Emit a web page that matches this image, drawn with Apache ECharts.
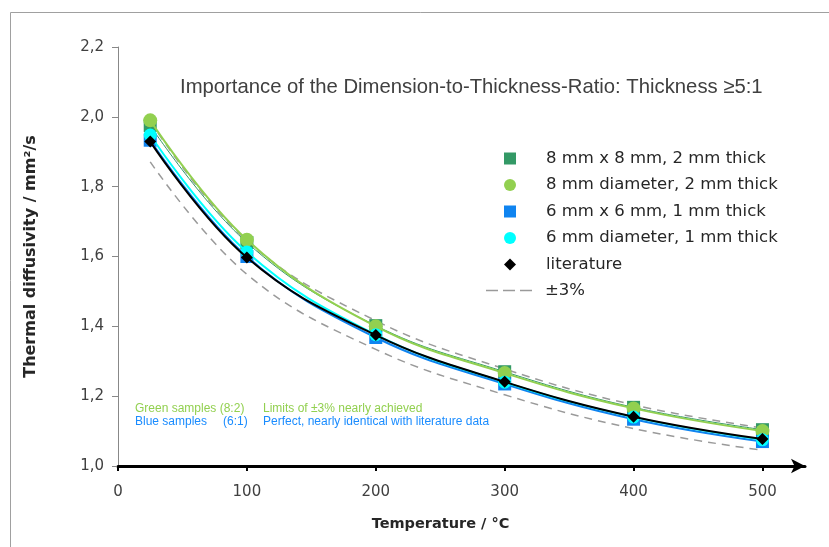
<!DOCTYPE html>
<html>
<head>
<meta charset="utf-8">
<script src="https://cdn.jsdelivr.net/npm/echarts@6/dist/echarts.min.js"></script>
<style>html,body{margin:0;padding:0;background:#fff}#c{width:829px;height:547px}</style>
</head>
<body>
<div id="c"></div>
<script>
const temperatures = [25, 100, 200, 300, 400, 500];
const xTickValues = [0, 100, 200, 300, 400, 500];
const sq8x8 = [1.975, 1.640, 1.402, 1.270, 1.168, 1.104];
const dia8 = [1.990, 1.648, 1.400, 1.266, 1.165, 1.100];
const sq6x6 = [1.933, 1.600, 1.368, 1.235, 1.134, 1.070];
const dia6 = [1.948, 1.613, 1.376, 1.240, 1.140, 1.075];
const literature = [1.929, 1.597, 1.375, 1.241, 1.141, 1.077];
const upper3 = [1.987, 1.645, 1.416, 1.278, 1.175, 1.109];
const lower3 = [1.871, 1.549, 1.334, 1.204, 1.107, 1.045];
const seriesNames = ['8 mm x 8 mm, 2 mm thick', '8 mm diameter, 2 mm thick', '6 mm x 6 mm, 1 mm thick', '6 mm diameter, 1 mm thick', 'literature', '±3%'];
const titleText = 'Importance of the Dimension-to-Thickness-Ratio: Thickness ≥5:1';

const pair = arr => temperatures.map((t, i) => [t, arr[i]]);
const SQ = 'path://M0,0H10V10H0Z';
const DM = 'path://M5,0L10,5L5,10L0,5Z';
const DASH = 'path://M0,0H12V1.5H0ZM17,0H29V1.5H17ZM34,0H46V1.5H34Z';
const F = 'DejaVu Sans';

const chart = echarts.init(document.getElementById('c'));
chart.setOption({
  animation: false,
  backgroundColor: '#fff',
  title: {
    text: titleText, left: 175, top: 72,
    textStyle: {fontFamily: 'Liberation Sans', fontSize: 20.3, fontWeight: 'normal', color: '#404040'}
  },
  grid: {left: 118, right: 24, top: 47, bottom: 81},
  xAxis: {
    type: 'value', min: 0, max: 533,
    name: 'Temperature / °C', nameLocation: 'middle', nameGap: 51,
    nameTextStyle: {fontFamily: F, fontSize: 14.5, fontWeight: 'bold', color: '#262626', padding: [0, 42, 0, 0]},
    axisLine: {show: true, lineStyle: {color: '#000', width: 3}, symbol: ['none', 'arrow'], symbolSize: [11, 14]},
    axisTick: {show: true, customValues: xTickValues, length: 5, lineStyle: {color: '#000', width: 2}},
    axisLabel: {customValues: xTickValues, margin: 19, fontFamily: F, fontSize: 15, color: '#404040'},
    splitLine: {show: false}
  },
  yAxis: {
    type: 'value', min: 1.0, max: 2.2, interval: 0.2,
    name: 'Thermal diffusivity / mm²/s', nameLocation: 'middle', nameGap: 79,
    nameTextStyle: {fontFamily: F, fontSize: 16, fontWeight: 'bold', color: '#262626'},
    axisLine: {show: true, lineStyle: {color: '#888', width: 1}},
    axisTick: {show: true, inside: false, length: 6, lineStyle: {color: '#888'}},
    axisLabel: {margin: 14, fontFamily: F, fontSize: 15, color: '#404040', formatter: v => v.toFixed(1).replace('.', ',')},
    splitLine: {show: false}
  },
  legend: [
    {
      data: [
        {name: seriesNames[0], icon: SQ},
        {name: seriesNames[1], icon: 'circle'},
        {name: seriesNames[2], icon: SQ},
        {name: seriesNames[3], icon: 'circle'},
        {name: seriesNames[4], icon: DM}
      ],
      orient: 'vertical', left: 499, top: 145, itemWidth: 62, itemHeight: 12, itemGap: 9.5,
      textStyle: {fontFamily: F, fontSize: 16.5, lineHeight: 16, color: '#262626'}
    },
    {
      data: [{name: seriesNames[5], icon: DASH}],
      orient: 'vertical', left: 481, top: 277, itemWidth: 46, itemHeight: 12,
      textStyle: {fontFamily: F, fontSize: 16.5, lineHeight: 16, color: '#262626', padding: [0, 0, 0, 8]}
    }
  ],
  graphic: [
    {type: 'rect', left: 8, top: 10, shape: {width: 840, height: 560}, style: {fill: 'none', stroke: '#a0a0a0', lineWidth: 1}, silent: true},
    {type: 'text', left: 135, top: 403, style: {text: 'Green samples (8:2)', fill: '#92d050', font: '12px Liberation Sans'}},
    {type: 'text', left: 263, top: 403, style: {text: 'Limits of ±3% nearly achieved', fill: '#92d050', font: '12px Liberation Sans'}},
    {type: 'text', left: 135, top: 416, style: {text: 'Blue samples', fill: '#1a8cff', font: '12px Liberation Sans'}},
    {type: 'text', left: 223, top: 416, style: {text: '(6:1)', fill: '#1a8cff', font: '12px Liberation Sans'}},
    {type: 'text', left: 263, top: 416, style: {text: 'Perfect, nearly identical with literature data', fill: '#1a8cff', font: '12px Liberation Sans'}}
  ],
  series: [
    {name: seriesNames[5], type: 'line', data: pair(upper3), smooth: 0.4, symbol: 'none', z: 1,
     lineStyle: {color: '#9a9a9a', width: 1.5, type: [8, 6]}, itemStyle: {color: '#9a9a9a'}},
    {name: seriesNames[5], type: 'line', data: pair(lower3), smooth: 0.4, symbol: 'none', z: 1,
     lineStyle: {color: '#9a9a9a', width: 1.5, type: [8, 6]}, itemStyle: {color: '#9a9a9a'}},
    {name: seriesNames[0], type: 'line', data: pair(sq8x8), smooth: 0.4, symbol: 'rect', symbolSize: 13, z: 2,
     lineStyle: {color: '#339966', width: 1}, itemStyle: {color: '#339966'}},
    {name: seriesNames[1], type: 'line', data: pair(dia8), smooth: 0.4, symbol: 'circle', symbolSize: 14, z: 3,
     lineStyle: {color: '#92d050', width: 2}, itemStyle: {color: '#92d050'}},
    {name: seriesNames[2], type: 'line', data: pair(sq6x6), smooth: 0.4, symbol: 'rect', symbolSize: 13, z: 4,
     lineStyle: {color: '#0f84f0', width: 2}, itemStyle: {color: '#0f84f0'}},
    {name: seriesNames[3], type: 'line', data: pair(dia6), smooth: 0.4, symbol: 'circle', symbolSize: 13, z: 5,
     lineStyle: {color: '#00ffff', width: 2}, itemStyle: {color: '#00ffff'}},
    {name: seriesNames[4], type: 'line', data: pair(literature), smooth: 0.4, symbol: 'diamond', symbolSize: 12, z: 6,
     lineStyle: {color: '#000', width: 2}, itemStyle: {color: '#000'}}
  ]
});
</script>
</body>
</html>
